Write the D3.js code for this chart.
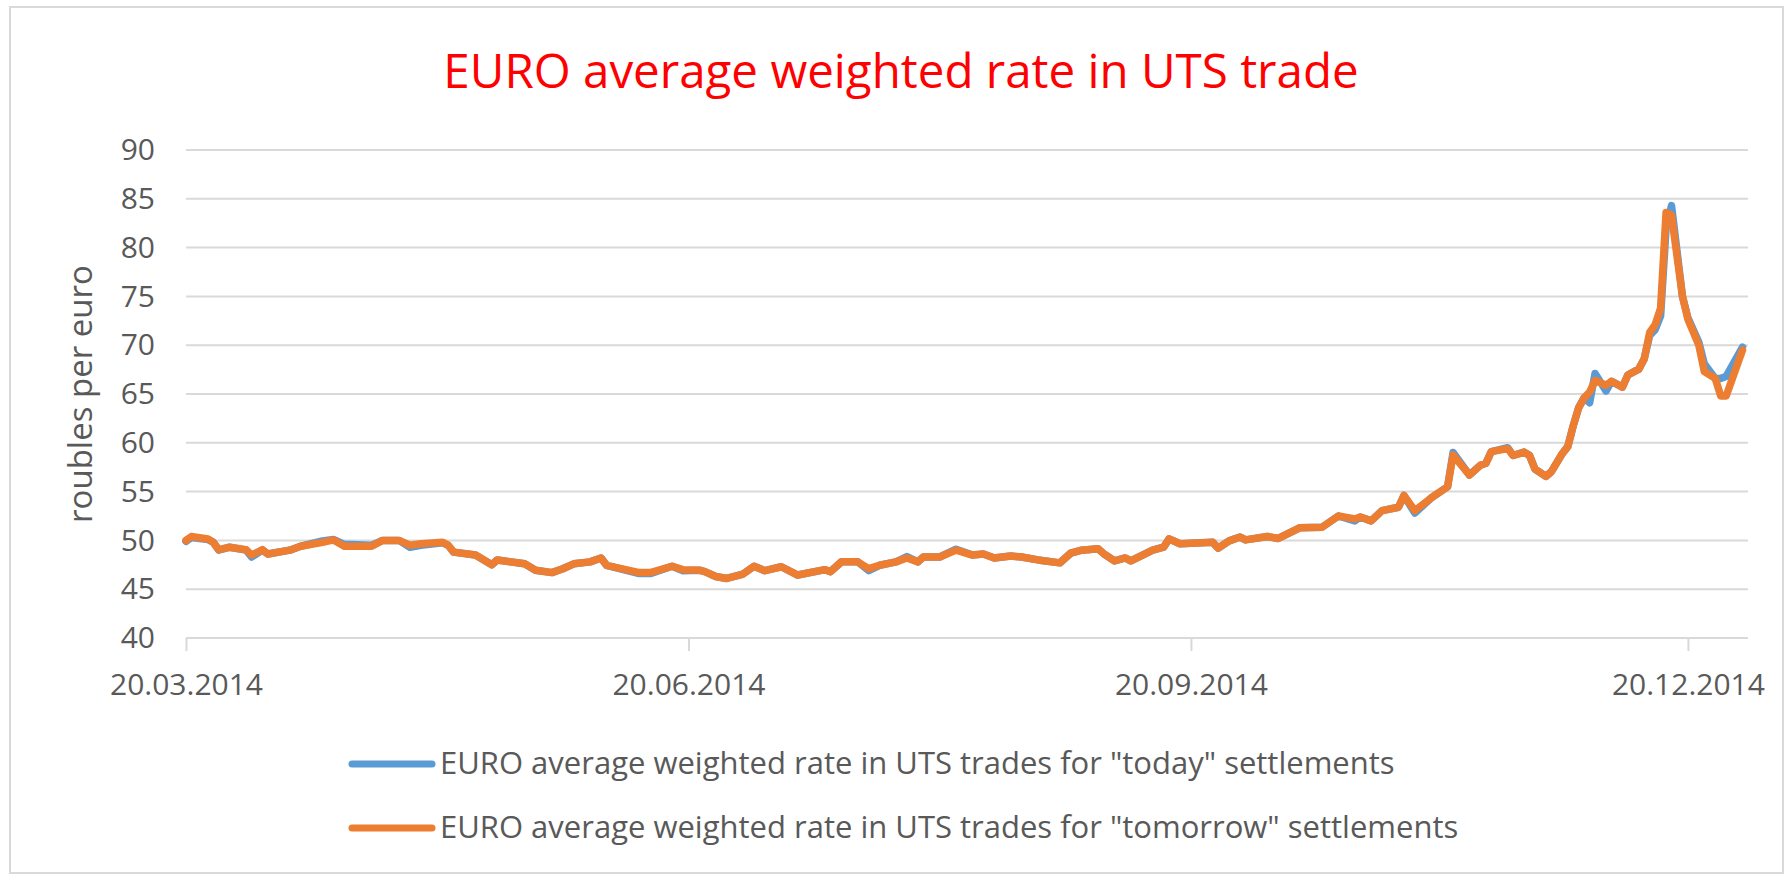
<!DOCTYPE html>
<html>
<head>
<meta charset="utf-8">
<script src="https://cdn.jsdelivr.net/npm/d3@7"></script>
<style>
  body{margin:0;background:#fff;}
  text{font-family:"Open Sans",sans-serif;}
</style>
</head>
<body>
<div id="chart"></div>
<script>
// trading dates (dd.mm.yyyy)
let dates=["20.03.2014","21.03.2014","24.03.2014","25.03.2014","26.03.2014","28.03.2014","31.03.2014","01.04.2014","03.04.2014","04.04.2014",
"08.04.2014","10.04.2014","14.04.2014","16.04.2014","18.04.2014","23.04.2014","25.04.2014","28.04.2014","30.04.2014","02.05.2014",
"06.05.2014","07.05.2014","08.05.2014","12.05.2014","15.05.2014","16.05.2014","21.05.2014","23.05.2014","26.05.2014","28.05.2014",
"30.05.2014","02.06.2014","04.06.2014","05.06.2014","11.06.2014","13.06.2014","17.06.2014","19.06.2014","22.06.2014","23.06.2014",
"25.06.2014","27.06.2014","30.06.2014","02.07.2014","04.07.2014","07.07.2014","10.07.2014","15.07.2014","16.07.2014","18.07.2014",
"21.07.2014","23.07.2014","25.07.2014","28.07.2014","30.07.2014","01.08.2014","02.08.2014","05.08.2014","08.08.2014","11.08.2014",
"13.08.2014","15.08.2014","18.08.2014","20.08.2014","23.08.2014","27.08.2014","29.08.2014","31.08.2014","03.09.2014","04.09.2014",
"06.09.2014","08.09.2014","09.09.2014","13.09.2014","15.09.2014","16.09.2014","18.09.2014","21.09.2014","24.09.2014","25.09.2014",
"27.09.2014","29.09.2014","30.09.2014","04.10.2014","06.10.2014","10.10.2014","14.10.2014","17.10.2014","20.10.2014","21.10.2014",
"23.10.2014","25.10.2014","28.10.2014","29.10.2014","31.10.2014","03.11.2014","06.11.2014","07.11.2014","10.11.2014","12.11.2014",
"13.11.2014","14.11.2014","17.11.2014","18.11.2014","20.11.2014","21.11.2014","22.11.2014","24.11.2014","25.11.2014","27.11.2014",
"28.11.2014","29.11.2014","30.11.2014","01.12.2014","02.12.2014","03.12.2014","05.12.2014","06.12.2014","08.12.2014","09.12.2014",
"11.12.2014","12.12.2014","13.12.2014","14.12.2014","15.12.2014","16.12.2014","17.12.2014","19.12.2014","20.12.2014","22.12.2014",
"23.12.2014","25.12.2014","26.12.2014","27.12.2014","30.12.2014"]

// "today" settlements (blue)
let todayRate=[49.9,50.3,50.1,49.8,49.0,49.3,49.0,48.3,49.0,48.6,
49.0,49.4,49.95,50.1,49.6,49.5,50.0,50.0,49.3,49.5,
49.75,49.5,48.8,48.5,47.5,48.0,47.6,46.95,46.7,47.1,
47.6,47.8,48.2,47.45,46.6,46.6,47.35,46.9,46.95,46.8,
46.3,46.1,46.55,47.35,46.9,47.3,46.45,47.0,46.8,47.8,
47.8,46.9,47.45,47.8,48.35,47.8,48.3,48.3,49.1,48.5,
48.6,48.2,48.4,48.3,48.0,47.7,48.7,49.0,49.15,48.65,
47.9,48.2,47.9,49.0,49.3,50.15,49.66,49.73,49.8,49.2,
49.95,50.35,50.05,50.4,50.2,51.3,51.35,52.5,52.0,52.4,
52.0,53.05,53.4,54.6,52.8,54.35,55.5,59.0,56.7,57.7,
57.9,59.1,59.5,58.7,59.05,58.7,57.3,56.55,57.05,58.9,
59.6,61.75,63.6,64.6,64.1,67.1,65.3,66.3,65.7,66.95,
67.55,68.6,71.0,71.6,73.0,82.0,84.3,75.0,72.8,70.3,
68.1,66.6,66.6,66.8,69.8]

// "tomorrow" settlements (orange)
let tomorrowRate=[50.0,50.4,50.15,49.8,49.05,49.3,49.05,48.5,49.05,48.6,
49.0,49.4,49.8,50.05,49.4,49.4,50.0,50.0,49.5,49.66,
49.8,49.5,48.8,48.5,47.5,48.0,47.6,46.95,46.7,47.1,
47.6,47.8,48.2,47.45,46.7,46.7,47.35,47.0,46.95,46.8,
46.3,46.1,46.55,47.35,46.9,47.3,46.45,47.0,46.8,47.8,
47.8,47.1,47.45,47.8,48.2,47.8,48.3,48.3,49.0,48.5,
48.6,48.2,48.4,48.3,48.0,47.7,48.7,49.0,49.15,48.65,
47.9,48.2,47.9,49.0,49.3,50.15,49.66,49.73,49.8,49.2,
49.95,50.35,50.05,50.4,50.2,51.3,51.35,52.5,52.2,52.4,
52.0,53.05,53.4,54.6,53.05,54.35,55.5,58.75,56.7,57.7,
57.9,59.1,59.4,58.7,59.05,58.7,57.3,56.55,57.05,58.9,
59.6,61.75,63.6,64.6,65.2,66.4,65.9,66.3,65.7,66.95,
67.55,68.6,71.3,72.1,73.8,83.6,83.3,75.0,72.65,70.0,
67.3,66.6,64.8,64.8,69.5]

let xTicks=["20.03.2014","20.06.2014","20.09.2014","20.12.2014"]
let yTicks=[40,45,50,55,60,65,70,75,80,85,90]
let seriesNames=['EURO average weighted rate in UTS trades for "today" settlements','EURO average weighted rate in UTS trades for "tomorrow" settlements']
let seriesColors=["#5B9BD5","#ED7D31"]

function drawChart(){
    let width=1789
    let height=880
    let left=186, right=1748, top=150, bottom=638
    let parse=d3.timeParse("%d.%m.%Y")

    let rows=dates.map((d,i)=>({date:parse(d),today:todayRate[i],tomorrow:tomorrowRate[i]}))

    let xScale=d3.scaleTime().domain([parse("20.03.2014"),parse("31.12.2014")]).range([left,right])
    let yScale=d3.scaleLinear().domain([40,90]).range([bottom,top])

    const svg=d3.select("#chart").append("svg").attr("width",width).attr("height",height)

    //outer frame of the chart
    svg.append("rect").attr("x",10).attr("y",7).attr("width",1773).attr("height",866)
       .attr("fill","#fff").attr("stroke","#d9d9d9").attr("stroke-width",2)

    svg.append("text").attr("x",901).attr("y",88).attr("text-anchor","middle")
       .attr("font-size",47.5).attr("fill","#ff0000").text("EURO average weighted rate in UTS trade")

    //horizontal gridlines
    svg.append("g").selectAll("line").data(yTicks).enter().append("line")
       .attr("x1",left).attr("x2",right).attr("y1",d=>yScale(d)).attr("y2",d=>yScale(d))
       .attr("stroke","#d9d9d9").attr("stroke-width",2)

    let yAxis=d3.axisLeft(yScale).tickValues(yTicks).tickSize(0).tickPadding(31)
    let gy=svg.append("g").attr("transform",`translate(${left},0)`).call(yAxis)
    gy.select(".domain").remove()
    gy.selectAll("text").attr("font-size",30).attr("fill","#595959").attr("font-family","Open Sans")

    let xAxis=d3.axisBottom(xScale).tickValues(xTicks.map(parse)).tickFormat(d3.timeFormat("%d.%m.%Y")).tickSize(13).tickPadding(23)
    let gx=svg.append("g").attr("transform",`translate(0,${bottom})`).call(xAxis)
    gx.select(".domain").remove()
    gx.selectAll("line").attr("stroke","#d9d9d9").attr("stroke-width",2)
    gx.selectAll("text").attr("font-size",30).attr("fill","#595959").attr("font-family","Open Sans")

    svg.append("text").attr("transform","translate(92,394) rotate(-90)").attr("text-anchor","middle")
       .attr("font-size",33).attr("fill","#595959").text("roubles per euro")

    //the two series, blue first so the orange one lies on top
    let keys=["today","tomorrow"]
    keys.forEach((k,i)=>{
        let line=d3.line().x(d=>xScale(d.date)).y(d=>yScale(d[k]))
        svg.append("path").datum(rows).attr("d",line).attr("fill","none")
           .attr("stroke",seriesColors[i]).attr("stroke-width",7.5)
           .attr("stroke-linejoin","round").attr("stroke-linecap","round")
    })

    //legend
    let legend=svg.append("g")
    seriesNames.forEach((name,i)=>{
        let y=764+i*64
        legend.append("line").attr("x1",352).attr("x2",432).attr("y1",y).attr("y2",y)
              .attr("stroke",seriesColors[i]).attr("stroke-width",7).attr("stroke-linecap","round")
        legend.append("text").attr("x",440).attr("y",y+10).attr("font-size",31).attr("fill","#595959").text(name)
    })
}

drawChart()
</script>
</body>
</html>
